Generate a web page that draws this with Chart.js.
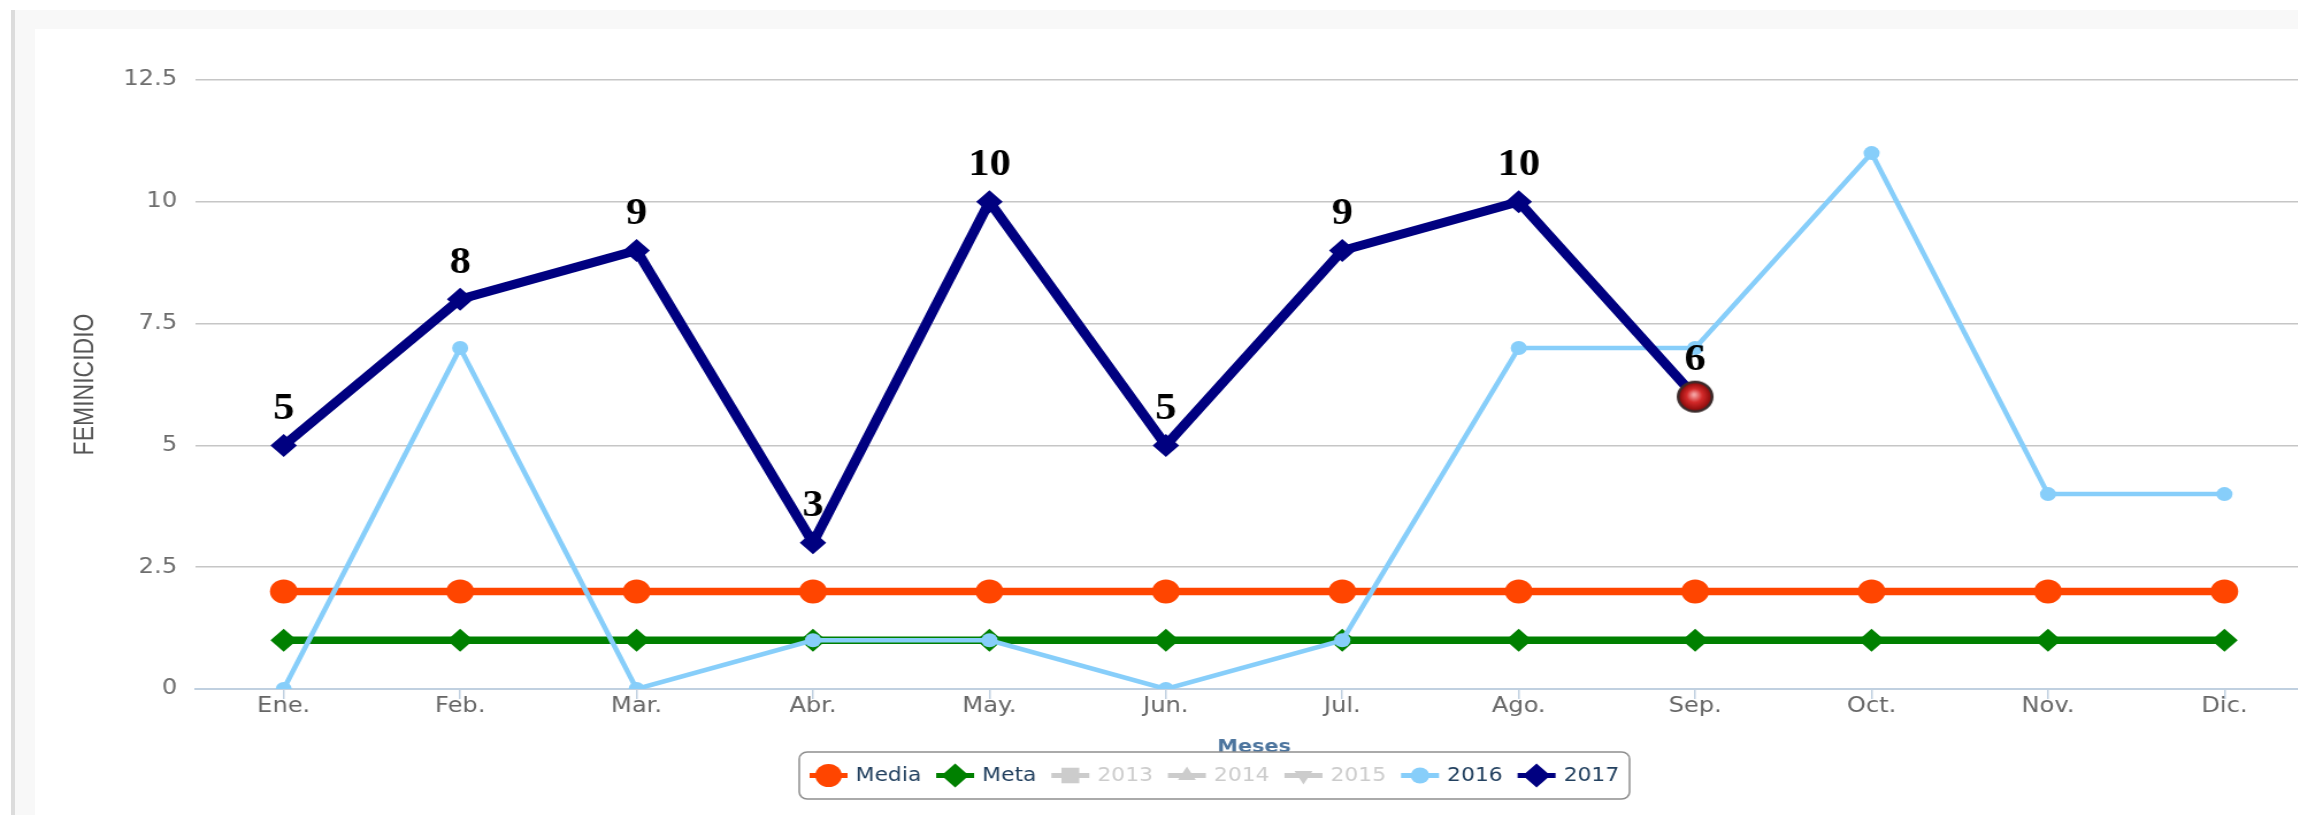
<!DOCTYPE HTML>
<html>
<head>
  <title>Feminicidio por mes</title>
  <meta charset="utf-8">
  <script src="https://cdn.jsdelivr.net/npm/chart.js"></script>
  <style>
    html, body { margin: 0; padding: 0; width: 2298px; height: 815px; overflow: hidden; background: #fff; }
    #frame { position: absolute; left: 11px; top: 10px; right: 0; bottom: 0; background: #f8f8f8; border-left: 4px solid #dcdcdc; }
    #panel { position: absolute; left: 35px; top: 29px; right: 0; bottom: 0; background: #fff; }
    /* the original screenshot is stretched sideways, so is this one */
    #wrap { position: absolute; left: 0; top: 0; width: 2040px; height: 815px; transform: scaleX(1.15); transform-origin: 0 0; }
  </style>
</head>
<body>
  <div id="frame"></div>
  <div id="panel"></div>
  <div id="wrap"><canvas id="myChart"></canvas></div>

<script type="text/javascript">
  // data
  var meses = ["Ene.", "Feb.", "Mar.", "Abr.", "May.", "Jun.", "Jul.", "Ago.", "Sep.", "Oct.", "Nov.", "Dic."];
  var media = [2, 2, 2, 2, 2, 2, 2, 2, 2, 2, 2, 2];
  var meta  = [1, 1, 1, 1, 1, 1, 1, 1, 1, 1, 1, 1];
  var y2016 = [0, 7, 0, 1, 1, 0, 1, 7, 7, 11, 4, 4];
  var y2017 = [5, 8, 9, 3, 10, 5, 9, 10, 6];
  var yTicks = { min: 0, max: 12.5, step: 2.5 };

  // red ball used for the last 2017 point
  var ball = document.createElement('canvas');
  ball.width = 34; ball.height = 34;
  (function () {
    var b = ball.getContext('2d');
    b.beginPath(); b.arc(17, 17, 16, 0, Math.PI * 2);
    b.fillStyle = '#3b2b2b'; b.fill();
    var g = b.createRadialGradient(16, 15, 1, 17, 17, 14);
    g.addColorStop(0, '#f4a0a0');
    g.addColorStop(0.45, '#d42a2a');
    g.addColorStop(1, '#8a0a0a');
    b.beginPath(); b.arc(17, 17, 13.5, 0, Math.PI * 2);
    b.fillStyle = g; b.fill();
  })();

  var ctx = document.getElementById('myChart');

  // numbers above the 2017 line
  var labels2017 = {
    id: 'labels2017',
    afterDatasetsDraw: function (chart) {
      var c = chart.ctx;
      var idx = chart.data.datasets.findIndex(function (d) { return d.label == '2017'; });
      var pts = chart.getDatasetMeta(idx).data;
      c.save();
      c.font = 'bold 37px "Liberation Serif", serif';
      c.fillStyle = '#000';
      c.textAlign = 'center';
      c.textBaseline = 'middle';
      for (var i = 0; i < pts.length; i++) {
        c.fillText(String(y2017[i]), pts[i].x, pts[i].y - 36);
      }
      c.restore();
    }
  };

  // Highcharts style legend: short line + marker, boxed
  var boxLegend = {
    id: 'boxLegend',
    afterDraw: function (chart) {
      var c = chart.ctx;
      var sets = chart.data.datasets;
      c.save();
      c.font = '19px "DejaVu Sans", sans-serif';
      var symW = 33, gapA = 7, gapB = 13, padX = 9;
      var total = padX * 2 + gapB * (sets.length - 1);
      sets.forEach(function (d) { total += symW + gapA + c.measureText(d.label).width; });
      var top = 752, h = 47, x = 1056 - total / 2, cy = top + h / 2;

      c.beginPath();
      c.roundRect(x, top, total, h, 7);
      c.strokeStyle = '#8e8e8e';
      c.lineWidth = 1.5;
      c.stroke();

      x += padX;
      sets.forEach(function (d) {
        var col = d.hidden ? '#cccccc' : d.borderColor;
        c.strokeStyle = col;
        c.fillStyle = col;
        c.lineWidth = 5;
        c.beginPath(); c.moveTo(x, cy); c.lineTo(x + symW, cy); c.stroke();
        Chart.helpers.drawPoint(c, {
          pointStyle: d.legendStyle,
          rotation: d.legendRot || 0,
          radius: d.legendRadius,
          borderWidth: 0
        }, x + symW / 2, cy);
        x += symW + gapA;
        c.fillStyle = d.hidden ? '#cccccc' : '#22405f';
        c.textAlign = 'left';
        c.textBaseline = 'middle';
        c.fillText(d.label, x, cy + 1);
        x += c.measureText(d.label).width + gapB;
      });
      c.restore();
    }
  };

  var myChart = new Chart(ctx, {
    type: 'line',
    data: {
      labels: meses,
      datasets: [
        { label: 'Media', data: media, borderColor: '#ff4500', backgroundColor: '#ff4500',
          borderWidth: 7.5, pointStyle: 'circle', pointRadius: 12, pointBorderWidth: 0,
          legendStyle: 'circle', legendRadius: 11.5, order: 6 },
        { label: 'Meta', data: meta, borderColor: '#008000', backgroundColor: '#008000',
          borderWidth: 7.5, pointStyle: 'rectRot', pointRadius: 11.5, pointBorderWidth: 0,
          legendStyle: 'rectRot', legendRadius: 12, order: 5 },
        { label: '2013', data: [], hidden: true, borderColor: '#cccccc',
          legendStyle: 'rect', legendRadius: 11, order: 4 },
        { label: '2014', data: [], hidden: true, borderColor: '#cccccc',
          legendStyle: 'triangle', legendRadius: 9, order: 3 },
        { label: '2015', data: [], hidden: true, borderColor: '#cccccc',
          legendStyle: 'triangle', legendRot: 180, legendRadius: 9, order: 2 },
        { label: '2016', data: y2016, borderColor: '#87cefa', backgroundColor: '#87cefa',
          borderWidth: 4.5, pointStyle: 'circle', pointRadius: 7, pointBorderWidth: 0,
          legendStyle: 'circle', legendRadius: 8, order: 1 },
        { label: '2017', data: y2017, borderColor: '#000080', backgroundColor: '#000080',
          borderWidth: 9, pointRadius: 11.5, pointBorderWidth: 0,
          pointStyle: y2017.map(function (v, i) { return i == y2017.length - 1 ? ball : 'rectRot'; }),
          legendStyle: 'rectRot', legendRadius: 12, order: 0 }
      ]
    },
    options: {
      responsive: true,
      maintainAspectRatio: false,
      animation: false,
      events: [],
      layout: { padding: { top: 80, right: 29, bottom: 0, left: 0 } },
      plugins: { legend: { display: false }, tooltip: { enabled: false } },
      scales: {
        x: {
          offset: true,
          afterFit: function (s) { s.height = 126; },
          border: { color: '#c0d0e0', width: 2 },
          grid: { drawOnChartArea: false, drawTicks: true, tickLength: 10, color: '#c0d0e0', lineWidth: 1.5 },
          ticks: { color: '#666', padding: -5, maxRotation: 0, autoSkip: false,
                   font: { family: '"DejaVu Sans", sans-serif', size: 21 } },
          title: { display: true, text: 'Meses', color: '#4d759e',
                   font: { family: '"DejaVu Sans", sans-serif', size: 18, weight: 'bold' },
                   padding: { top: 0, bottom: 57 } }
        },
        y: {
          min: yTicks.min,
          max: yTicks.max,
          afterFit: function (s) { s.width = 170; },
          border: { display: false },
          grid: { color: '#c6c6c6', lineWidth: 1.5, drawTicks: false },
          ticks: { stepSize: yTicks.step, color: '#6e6e6e', padding: 16,
                   callback: function (v) { return String(v); },
                   font: { family: '"DejaVu Sans", sans-serif', size: 21 } },
          title: { display: true, text: 'FEMINICIDIO', color: '#555',
                   font: { family: '"Liberation Sans", Arial, sans-serif', size: 23 },
                   padding: { top: 61, bottom: 0 } }
        }
      }
    },
    plugins: [labels2017, boxLegend]
  });
</script>
</body>
</html>
